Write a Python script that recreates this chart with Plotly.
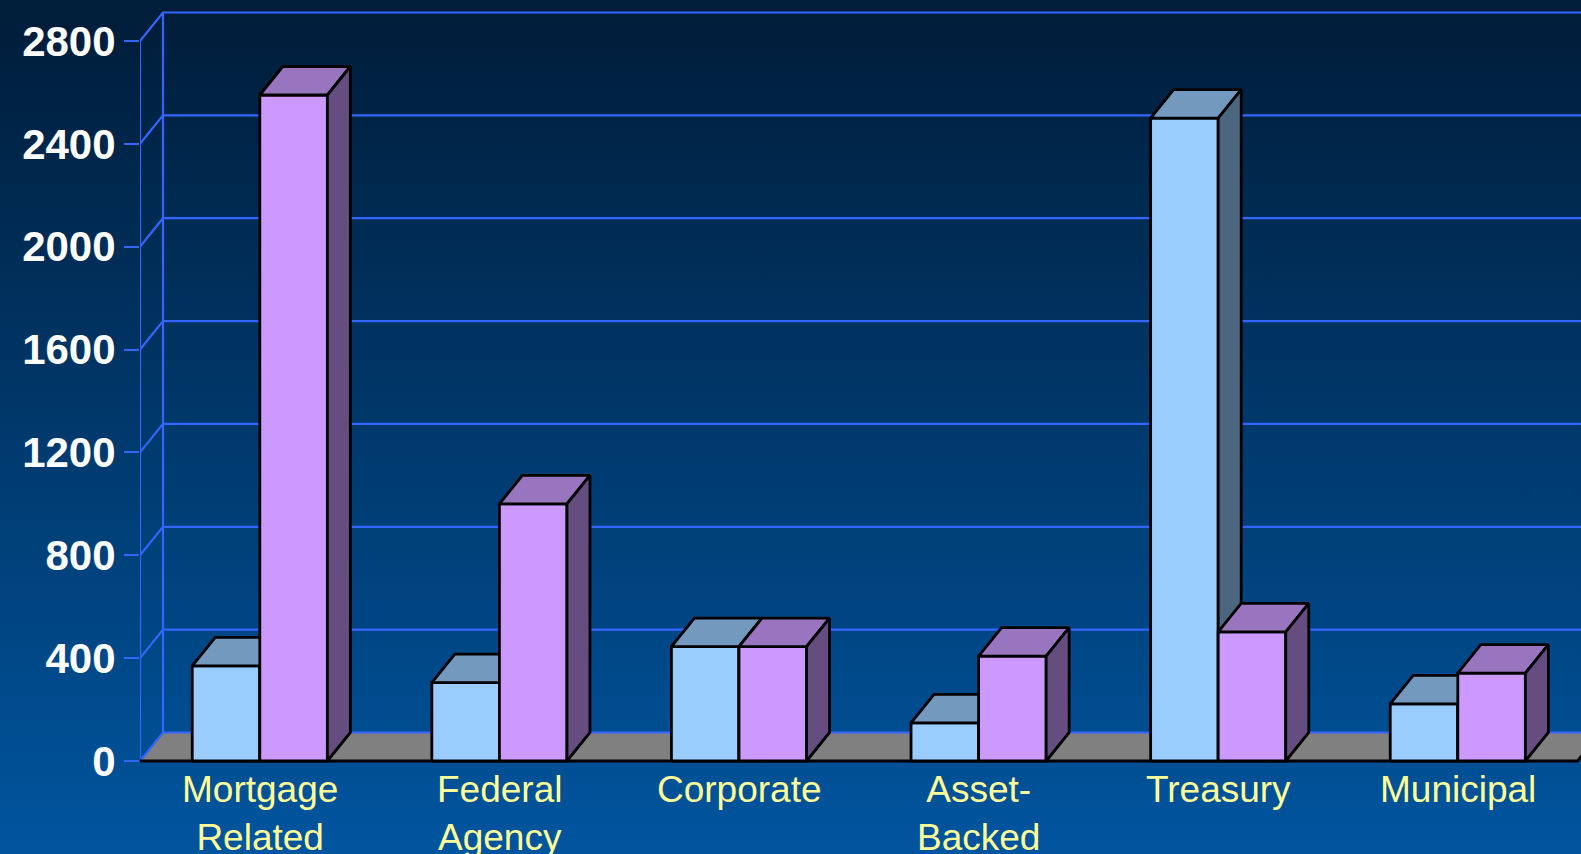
import base64
import plotly.graph_objects as go

# ---------------- data ----------------
categories = ["Mortgage<br>Related", "Federal<br>Agency", "Corporate",
              "Asset-<br>Backed", "Treasury", "Municipal"]
series_blue = [370, 305, 445, 148, 2500, 222]
series_violet = [2590, 1000, 445, 408, 502, 342]
y_ticks = [0, 400, 800, 1200, 1600, 2000, 2400, 2800]

# ---------------- style ----------------
W, H = 1581, 854
ML, MR, MT, MB = 140, 0, 0, 90
plot_w = W - ML - MR
plot_h = H - MT - MB
px_per_unit_y = 720 / 2800.0
px_per_cat = 239.6
y_lo = -3 / px_per_unit_y
y_hi = y_lo + plot_h / px_per_unit_y
x_lo = -0.5
x_hi = x_lo + plot_w / px_per_cat

DX = 23 / px_per_cat          # depth offset (x, data units)
DY = 28.5 / px_per_unit_y     # depth offset (y, data units)
BW = 0.282                    # bar width (category units)

GRID = "#3366ff"
FONT = "Arial, Liberation Sans, sans-serif"

fig = go.Figure()

# floor
n = len(categories)
fx0, fx1 = -0.5, n - 0.5
fig.add_trace(go.Scatter(x=[fx0, fx1, fx1 + DX, fx0 + DX, fx0], y=[0, 0, DY, DY, 0],
                         mode="lines", fill="toself", fillcolor="#808080",
                         line=dict(width=0), hoverinfo="skip", showlegend=False))

# back wall grid + left walls
gx, gy = [], []
for t in y_ticks:
    gx += [fx0, fx0 + DX, x_hi + 1, None]
    gy += [t, t + DY, t + DY, None]
gx += [fx0, fx0, None, fx0 + DX, fx0 + DX, None]
gy += [0, y_ticks[-1], None, DY, y_ticks[-1] + DY, None]
fig.add_trace(go.Scatter(x=gx, y=gy, mode="lines", line=dict(color=GRID, width=2.2),
                         hoverinfo="skip", showlegend=False))

# floor front edge (black)
fig.add_trace(go.Scatter(x=[fx0, fx1, fx1 + DX], y=[0, 0, DY], mode="lines",
                         line=dict(color="black", width=3), hoverinfo="skip", showlegend=False))


def add_boxes(lefts, vals, c_front, c_top, c_side):
    fx_, fy_, tx_, ty_, sx_, sy_ = [], [], [], [], [], []
    for x0, v in zip(lefts, vals):
        x1 = x0 + BW
        fx_ += [x0, x1, x1, x0, x0, None]
        fy_ += [0, 0, v, v, 0, None]
        tx_ += [x0, x1, x1 + DX, x0 + DX, x0, None]
        ty_ += [v, v, v + DY, v + DY, v, None]
        sx_ += [x1, x1 + DX, x1 + DX, x1, x1, None]
        sy_ += [0, DY, v + DY, v, 0, None]
    for xs, ys, col in ((fx_, fy_, c_front), (tx_, ty_, c_top), (sx_, sy_, c_side)):
        fig.add_trace(go.Scatter(x=xs, y=ys, mode="lines", fill="toself", fillcolor=col,
                                 line=dict(color="black", width=2.8),
                                 hoverinfo="skip", showlegend=False))


idx = list(range(n))
add_boxes([i - BW for i in idx], series_blue, "#99ccff", "#7399bf", "#4d6680")
add_boxes([i for i in idx], series_violet, "#cc99ff", "#9975bf", "#664d80")

# category labels
for i, c in enumerate(categories):
    fig.add_annotation(x=i, y=0, xref="x", yref="y", text=c, showarrow=False,
                       yanchor="top", xanchor="center", yshift=-6,
                       font=dict(family=FONT, size=37, color="#ffff99"))

# background gradient
svg = ('<svg xmlns="http://www.w3.org/2000/svg" width="100" height="100" preserveAspectRatio="none">'
       '<defs><linearGradient id="g" x1="0" y1="0" x2="0" y2="1">'
       '<stop offset="0" stop-color="#001c38"/><stop offset="1" stop-color="#00559f"/>'
       '</linearGradient></defs><rect width="100" height="100" fill="url(#g)"/></svg>')
src = "data:image/svg+xml;base64," + base64.b64encode(svg.encode()).decode()
fig.add_layout_image(dict(source=src, xref="paper", yref="paper",
                          x=-ML / plot_w, y=1 + MT / plot_h,
                          sizex=W / plot_w, sizey=H / plot_h,
                          sizing="stretch", xanchor="left", yanchor="top", layer="below"))

fig.update_layout(
    width=W, height=H,
    margin=dict(l=ML, r=MR, t=MT, b=MB, pad=0),
    paper_bgcolor="#003a75", plot_bgcolor="rgba(0,0,0,0)",
    showlegend=False,
    xaxis=dict(range=[x_lo, x_hi], showgrid=False, zeroline=False, showticklabels=False,
               ticks="", showline=False, fixedrange=True),
    yaxis=dict(range=[y_lo, y_hi], showgrid=False, zeroline=False, showline=False,
               tickvals=y_ticks, ticktext=[str(t) for t in y_ticks],
               ticks="outside", ticklen=15, tickwidth=2.2, tickcolor=GRID,
               ticklabelstandoff=0,
               tickfont=dict(family=FONT, size=42, color="white", weight="bold"),
               fixedrange=True),
)

fig.write_html("out.html", config={"displayModeBar": False},
               post_script="document.body.style.margin='0';document.body.style.overflow='hidden';")
